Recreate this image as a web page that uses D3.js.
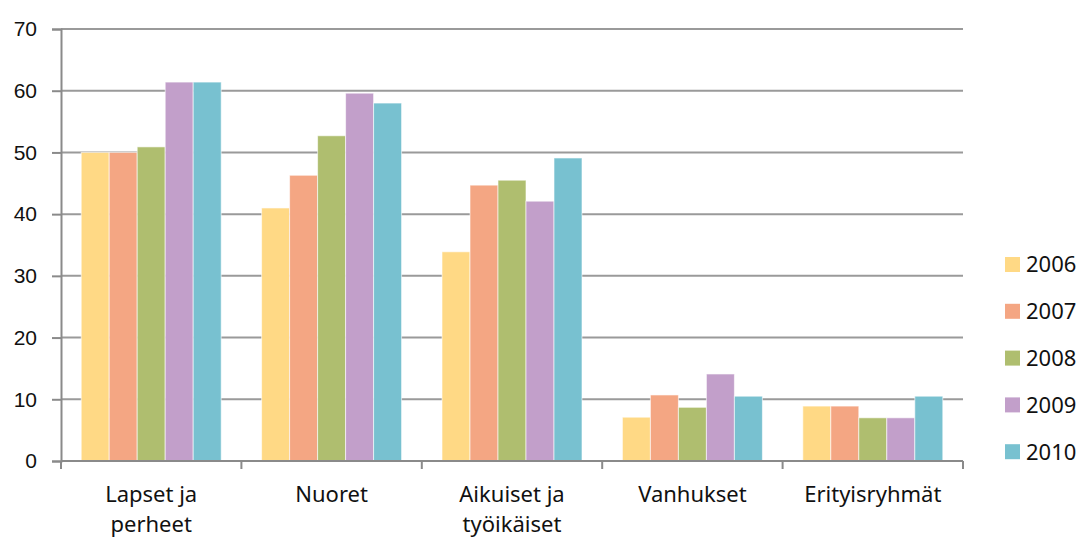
<!DOCTYPE html>
<html>
<head>
<meta charset="utf-8">
<script src="https://cdn.jsdelivr.net/npm/d3@7"></script>
<style>
  body { margin: 0; background: #fff; }
  .ytick text { font-family: "Liberation Sans", Arial, sans-serif; font-size: 21px; fill: #111; }
  .cat-label { font-family: "Noto Sans", sans-serif; font-size: 22px; fill: #111; }
  .legend text { font-family: "Noto Sans", sans-serif; font-size: 22px; fill: #111; }
</style>
</head>
<body>
<div class="chart"></div>
<script>
var svgWidth = 1082;
var svgHeight = 539;

var margin = { top: 29, right: 119, bottom: 78, left: 61 };
var width = svgWidth - margin.left - margin.right;
var height = svgHeight - margin.top - margin.bottom;

var categories = [["Lapset ja", "perheet"], ["Nuoret"], ["Aikuiset ja", "työikäiset"], ["Vanhukset"], ["Erityisryhmät"]];
var years = ["2006", "2007", "2008", "2009", "2010"];
var colors = ["#FFD985", "#F4A683", "#AFBE6F", "#C29FCA", "#78C1D0"];

var v2006 = [50.0, 41.0, 33.9, 7.1, 8.9];
var v2007 = [50.0, 46.3, 44.7, 10.7, 8.9];
var v2008 = [50.9, 52.7, 45.5, 8.7, 7.0];
var v2009 = [61.4, 59.6, 42.1, 14.1, 7.0];
var v2010 = [61.4, 58.0, 49.1, 10.5, 10.5];
var series = [v2006, v2007, v2008, v2009, v2010];

var yTicks = [0, 10, 20, 30, 40, 50, 60, 70];

var svg = d3.select(".chart")
  .append("svg")
  .attr("width", svgWidth)
  .attr("height", svgHeight)
  .append("g")
  .attr("transform", "translate(" + margin.left + "," + margin.top + ")");

var catIdx = d3.range(categories.length);

var x0 = d3.scaleBand().domain(catIdx).range([0, width]).padding(0);
var gap = x0.bandwidth() * 0.112;
var x1 = d3.scaleBand().domain(years).range([gap, x0.bandwidth() - gap]).padding(0);
var y = d3.scaleLinear().domain([0, 70]).range([height, 0]);

// gridlines
svg.append("g")
  .selectAll("line")
  .data(yTicks.slice(1))
  .enter()
  .append("line")
  .attr("x1", 0)
  .attr("x2", width)
  .attr("y1", function(d) { return y(d); })
  .attr("y2", function(d) { return y(d); })
  .attr("stroke", "#9a9a9a")
  .attr("stroke-width", 2);

// bars
var groups = svg.append("g")
  .selectAll("g")
  .data(catIdx)
  .enter()
  .append("g")
  .attr("transform", function(d) { return "translate(" + x0(d) + ",0)"; });

groups.selectAll("rect")
  .data(function(c) {
    return years.map(function(yr, i) { return { year: yr, i: i, value: series[i][c] }; });
  })
  .enter()
  .append("rect")
  .attr("x", function(d) { return x1(d.year); })
  .attr("width", x1.bandwidth())
  .attr("y", function(d) { return y(d.value); })
  .attr("height", function(d) { return height - y(d.value); })
  .attr("fill", function(d) { return colors[d.i]; })
  .attr("stroke", "#fff")
  .attr("stroke-opacity", 0.6)
  .attr("stroke-width", 1);

// y axis
var leftAxis = d3.axisLeft(y).tickValues(yTicks).tickSize(9).tickPadding(15);
var yAxis = svg.append("g").attr("class", "ytick").call(leftAxis);
yAxis.select(".domain").attr("stroke", "#8a8a8a").attr("stroke-width", 2);
yAxis.selectAll(".tick line").attr("stroke", "#8a8a8a").attr("stroke-width", 2);
yAxis.selectAll("text").attr("font-family", null).attr("font-size", null).attr("fill", "#111");

// x axis
var bottom = svg.append("g").attr("transform", "translate(0," + height + ")");
bottom.append("line")
  .attr("x1", 0).attr("x2", width)
  .attr("stroke", "#8a8a8a").attr("stroke-width", 2);
bottom.selectAll(".xt")
  .data(d3.range(categories.length + 1))
  .enter()
  .append("line")
  .attr("class", "xt")
  .attr("x1", function(d) { return d * x0.step(); })
  .attr("x2", function(d) { return d * x0.step(); })
  .attr("y1", 0).attr("y2", 8)
  .attr("stroke", "#8a8a8a").attr("stroke-width", 2);

var labels = bottom.selectAll(".cat-label")
  .data(catIdx)
  .enter()
  .append("text")
  .attr("class", "cat-label")
  .attr("text-anchor", "middle")
  .attr("x", function(d) { return x0(d) + x0.bandwidth() / 2; });

labels.selectAll("tspan")
  .data(function(d) { return categories[d]; })
  .enter()
  .append("tspan")
  .attr("x", function() { return d3.select(this.parentNode).attr("x"); })
  .attr("y", function(d, i) { return 41 + i * 30; })
  .text(function(d) { return d; });

// legend
var legend = svg.append("g")
  .attr("class", "legend")
  .attr("transform", "translate(" + (width + 43) + ",0)");

var items = legend.selectAll("g")
  .data(years)
  .enter()
  .append("g")
  .attr("transform", function(d, i) { return "translate(0," + (235.5 + i * 46.8) + ")"; });

items.append("rect")
  .attr("x", -1).attr("y", -7.5)
  .attr("width", 15).attr("height", 15)
  .attr("fill", function(d, i) { return colors[i]; });

items.append("text")
  .attr("x", 20)
  .attr("dy", "0.36em")
  .text(function(d) { return d; });
</script>
</body>
</html>
